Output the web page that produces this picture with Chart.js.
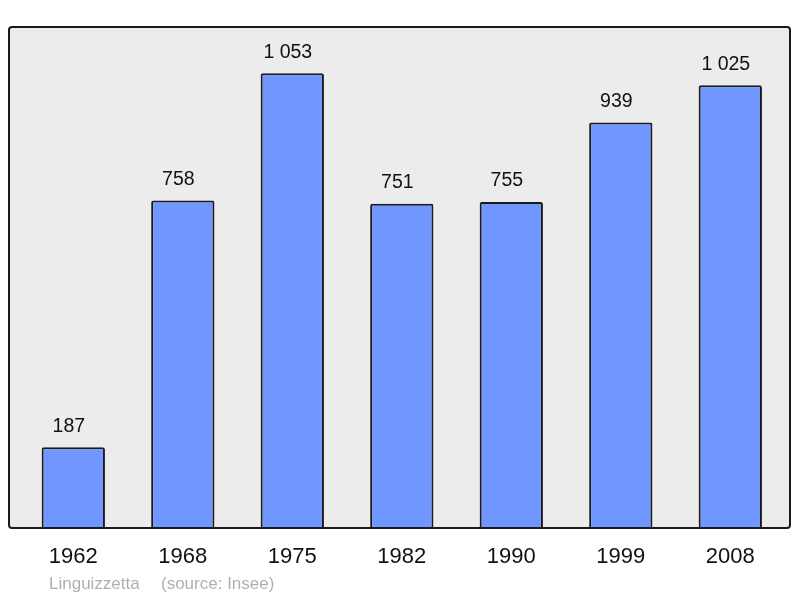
<!DOCTYPE html>
<html>
<head>
<meta charset="utf-8">
<script src="https://cdn.jsdelivr.net/npm/chart.js@4/dist/chart.umd.min.js"></script>
<style>
    html, body { margin: 0; padding: 0; background: #fff; }
    #wrap { width: 800px; height: 598px; }
</style>
</head>
<body>
<div id="wrap"><canvas id="popChart"></canvas></div>
<script>
    const years = ['1962', '1968', '1975', '1982', '1990', '1999', '2008'];
    const population = [187, 758, 1053, 751, 755, 939, 1025];
    const valueLabels = ['187', '758', '1 053', '751', '755', '939', '1 025'];
    const yMax = 1160;

    const FONT = '"Liberation Sans", Arial, sans-serif';

    // grey panel behind the bars, black frame on top of them
    const panelPlugin = {
        id: 'panel',
        box(chart) {
            const a = chart.chartArea;
            const x0 = a.left - 9.55, x1 = a.right + 4.95;
            return {x: x0, y: a.top, w: x1 - x0, h: a.bottom - a.top};
        },
        beforeDatasetsDraw(chart) {
            const {ctx} = chart;
            const b = this.box(chart);
            ctx.save();
            ctx.fillStyle = '#ececec';
            ctx.beginPath();
            ctx.roundRect(b.x, b.y, b.w, b.h, 3);
            ctx.fill();
            ctx.restore();
        },
        afterDatasetsDraw(chart) {
            const {ctx} = chart;
            const b = this.box(chart);
            ctx.save();
            ctx.strokeStyle = '#1a1a1a';
            ctx.lineWidth = 2;
            ctx.beginPath();
            ctx.roundRect(b.x, b.y, b.w, b.h, 3);
            ctx.stroke();

            // value labels above each bar
            ctx.fillStyle = '#111';
            ctx.font = '19.5px ' + FONT;
            ctx.textAlign = 'center';
            ctx.textBaseline = 'middle';
            chart.getDatasetMeta(0).data.forEach((bar, i) => {
                ctx.fillText(valueLabels[i], bar.x - 4.5, bar.y - 21);
            });

            ctx.fillStyle = '#b0b0b0';
            ctx.font = '17px ' + FONT;
            ctx.textAlign = 'left';
            ctx.fillText('Linguizzetta', 49, 584);
            ctx.fillText('(source: Insee)', 161, 584);
            ctx.restore();
        }
    };

    new Chart(document.getElementById('popChart'), {
        type: 'bar',
        data: {
            labels: years,
            datasets: [{
                data: population,
                backgroundColor: '#7097ff',
                borderColor: '#1a1a1a',
                borderWidth: 2,
                borderRadius: {topLeft: 2, topRight: 2},
                borderSkipped: 'bottom',
                categoryPercentage: 1,
                barPercentage: 0.578
            }]
        },
        options: {
            responsive: true,
            maintainAspectRatio: false,
            animation: false,
            layout: {padding: {left: 18.55, right: 14.95, top: 27, bottom: 0}},
            plugins: {legend: {display: false}, tooltip: {enabled: false}},
            scales: {
                x: {
                    grid: {display: false, drawTicks: false},
                    border: {display: false},
                    ticks: {color: '#111', font: {family: FONT, size: 22}, padding: 16},
                    afterFit(scale) { scale.height = 70; }
                },
                y: {display: false, min: 0, max: yMax}
            }
        },
        plugins: [panelPlugin]
    });
</script>
</body>
</html>
